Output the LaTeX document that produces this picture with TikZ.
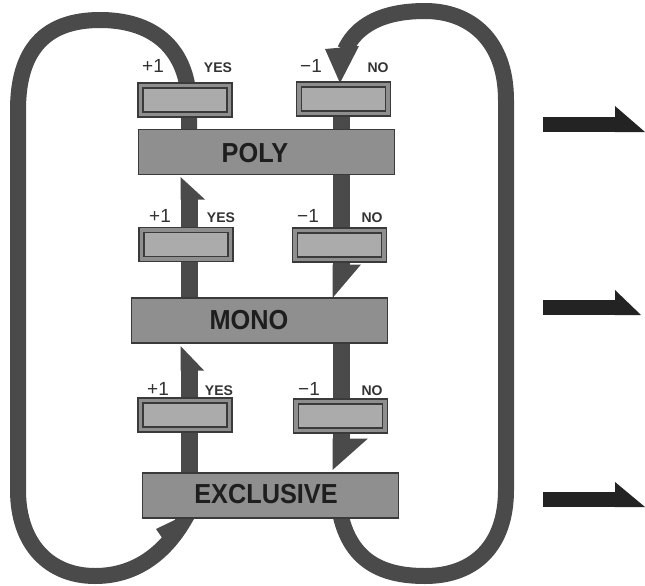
\documentclass[tikz,border=0pt]{standalone}
\usepackage{fontspec}
\setmainfont{Liberation Sans}
\newfontfamily\condfont[FakeStretch=0.92]{Liberation Sans}
\definecolor{loopc}{HTML}{4A4A4A}
\definecolor{boxc}{HTML}{8F8F8F}
\definecolor{btnout}{HTML}{8E8E8E}
\definecolor{btnin}{HTML}{ABABAB}
\definecolor{edgec}{HTML}{3A3A3A}
\definecolor{txtc}{HTML}{1E1E1E}
\definecolor{lblc}{HTML}{333333}
\definecolor{arrc}{HTML}{232323}
\begin{document}
\begin{tikzpicture}[x=1pt,y=-1pt,
  panel/.style={draw=edgec,line width=1.6pt,fill=boxc,rectangle,inner sep=0pt,
    minimum width=256pt,minimum height=45pt},
  btn/.style={draw=edgec,line width=1.6pt,fill=btnout,rectangle,inner sep=0pt,
    minimum width=94pt,minimum height=34pt,
    path picture={\filldraw[fill=btnin,draw=edgec,line width=1.1pt]
      ([shift={(5pt,-5pt)}]path picture bounding box.north west) rectangle
      ([shift={(-5pt,5pt)}]path picture bounding box.south east);}},
  paneltext/.style={font=\condfont\bfseries\fontsize{27.5}{32}\selectfont,text=txtc,inner sep=0pt},
  numtext/.style={font=\fontsize{19}{22}\selectfont,text=lblc,inner sep=0pt,anchor=base},
  yntext/.style={font=\bfseries\fontsize{14}{16}\selectfont,text=lblc,inner sep=0pt,anchor=base},
  loopline/.style={draw=loopc,line width=16pt,line cap=butt},
  shaft/.style={draw=loopc,line width=17pt,line cap=butt},
  head/.style={fill=loopc}
]
\useasboundingbox (0,0) rectangle (645,586);
\fill[white] (0,0) rectangle (645,586);

\coordinate (Y) at (189,0);
\coordinate (N) at (341,0);

% panels and buttons (named, drawn later on top)
\path
  node[panel,draw=none,fill=none] (poly) at (266.5,152) {}
  node[panel,draw=none,fill=none] (mono) at (259.5,320.5) {}
  node[panel,draw=none,fill=none] (excl) at (270.5,495.5) {};
\path
  node[btn,draw=none,fill=none,path picture={}] (y1) at (185,100) {}
  node[btn,draw=none,fill=none,path picture={}] (n1) at (343.5,99) {}
  node[btn,draw=none,fill=none,path picture={}] (y2) at (186,244.5) {}
  node[btn,draw=none,fill=none,path picture={}] (n2) at (339.5,245) {}
  node[btn,draw=none,fill=none,path picture={}] (y3) at (185,415) {}
  node[btn,draw=none,fill=none,path picture={}] (n3) at (340.5,416) {};

% left loop: POLY (+1) round to EXCLUSIVE
\draw[loopline] (Y |- poly.center) -- (Y |- y1.center)
  .. controls (186,45) and (150,20) .. (100,20)
  .. controls (45,20) and (18,50) .. (18,110)
  -- (18,490)
  .. controls (18,545) and (50,576) .. (95,576)
  .. controls (140,576) and (172,548) .. (192,505);
\fill[head] (165,542) -- (156,529) -- (183,516) -- (178,534) -- cycle;

% right loop: EXCLUSIVE (-1) round to POLY
\draw[loopline] (338,500)
  .. controls (345,560) and (380,576) .. (425,576)
  .. controls (475,576) and (506,545) .. (506,490)
  -- (506,100)
  .. controls (506,40) and (470,11) .. (425,11)
  .. controls (395,11) and (360,18) .. (345,50);
\fill[head] (325,49) -- (359,46) -- (340,83) -- cycle;
\draw[shaft] (N |- n1.center) -- (N |- poly.center);

% POLY <-> MONO
\draw[shaft] (Y |- mono.center) -- (189,199);
\fill[head] (180.5,199.5) -- (180.5,177) -- (205,199.5) -- cycle;
\draw[shaft] (N |- poly.center) -- (341,265);
\fill[head] (332.5,264.5) -- (361,264.5) -- (332.5,298) -- cycle;

% MONO <-> EXCLUSIVE
\draw[shaft] (Y |- excl.center) -- (189,370);
\fill[head] (180.5,370.5) -- (180.5,346) -- (204,370.5) -- cycle;
\draw[shaft] (N |- mono.center) -- (341,439);
\fill[head] (332.5,438.5) -- (368,438.5) -- (332.5,470) -- cycle;

% visible panels and buttons
\path
  node[panel] at (poly.center) {}
  node[panel] at (mono.center) {}
  node[panel] at (excl.center) {};
\path
  node[btn] at (y1.center) {}
  node[btn] at (n1.center) {}
  node[btn] at (y2.center) {}
  node[btn] at (n2.center) {}
  node[btn] at (y3.center) {}
  node[btn] at (n3.center) {};

\node[paneltext] (tpoly) at (255,153) {POLY};
\node[paneltext] (tmono) at (249,320) {MONO};
\node[paneltext] (texcl) at (266,494) {EXCLUSIVE};

% labels
\node[numtext] (p1) at (153,73) {+1};
\node[yntext] (ye1) at (218,72) {YES};
\node[numtext] (m1) at (311,72) {−1};
\node[yntext] (no1) at (378,72) {NO};
\node[numtext] (p2) at (160,222) {+1};
\node[yntext] (ye2) at (221,222) {YES};
\node[numtext] (m2) at (308,222) {−1};
\node[yntext] (no2) at (372,222) {NO};
\node[numtext] (p3) at (158,395) {+1};
\node[yntext] (ye3) at (219,395) {YES};
\node[numtext] (m3) at (309,395) {−1};
\node[yntext] (no3) at (372,395) {NO};

% output arrows at right
\fill[arrc] (543,117) rectangle (616,132);
\fill[arrc] (615,106) -- (645,132) -- (615,132) -- cycle;
\fill[arrc] (543,300) rectangle (616,315);
\fill[arrc] (615,290) -- (641,315) -- (615,315) -- cycle;
\fill[arrc] (543,492) rectangle (616,507);
\fill[arrc] (615,482) -- (645,507) -- (615,507) -- cycle;
\end{tikzpicture}
\end{document}
